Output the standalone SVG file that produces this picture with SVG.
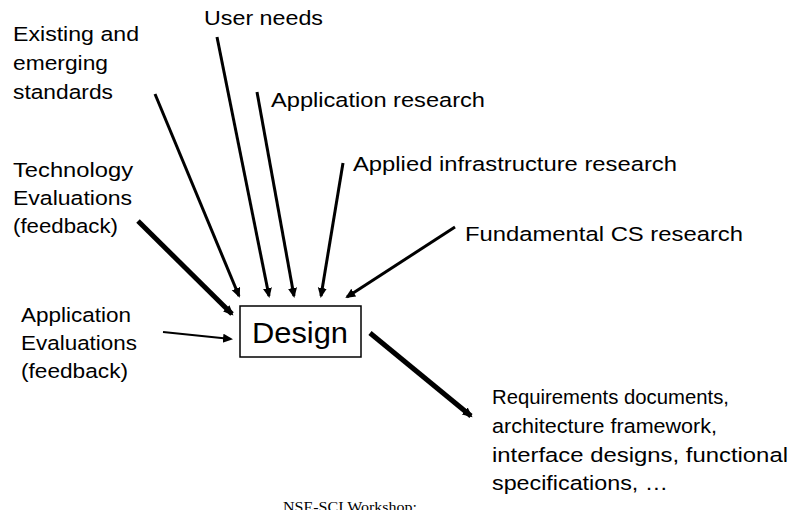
<svg xmlns="http://www.w3.org/2000/svg" width="790" height="510" viewBox="0 0 790 510">
<style>
.lbl{font-family:"Liberation Sans",Arial,sans-serif;font-size:20.5px;fill:#000}
.ttl{font-family:"Liberation Sans",Arial,sans-serif;font-size:29px;fill:#000}
.foot{font-family:"Liberation Serif","Times New Roman",serif;font-size:15.5px;fill:#000}
.arr{fill:none;stroke:#000;stroke-width:3;marker-end:url(#ah)}
.thick{stroke-width:5}
.thin{stroke-width:2}
</style>
<defs>
<marker id="ah" markerUnits="userSpaceOnUse" markerWidth="12" markerHeight="10" refX="8" refY="4.5" orient="auto">
<path d="M0,0 L10,4.5 L0,9 z" fill="#000"/>
</marker>
</defs>
<rect width="790" height="510" fill="#fff"/>
<g id="connectors">
<path class="arr" d="M155,94 L239,296"/>
<path class="arr" d="M217,37 L269,296"/>
<path class="arr" d="M257,92 L294,296"/>
<path class="arr" d="M343,163 L321,296"/>
<path class="arr" d="M455,227 L347,297"/>
<path class="arr thick" d="M138,221 L232,314"/>
<path class="arr thin" d="M163,332 L231,339"/>
<path class="arr thick" d="M370,333 L471,416"/>
</g>
<g id="design">
<rect x="240" y="306" width="121" height="51" fill="#fff" stroke="#000" stroke-width="1.5"/>
<text class="ttl" x="252" y="343" textLength="96" lengthAdjust="spacingAndGlyphs">Design</text>
</g>
<g id="user-needs">
<text class="lbl" x="204" y="25" textLength="119" lengthAdjust="spacingAndGlyphs">User needs</text>
</g>
<g id="standards">
<text class="lbl" x="13" y="41" textLength="126" lengthAdjust="spacingAndGlyphs">Existing and</text>
<text class="lbl" x="13" y="70" textLength="95" lengthAdjust="spacingAndGlyphs">emerging</text>
<text class="lbl" x="13" y="99" textLength="100" lengthAdjust="spacingAndGlyphs">standards</text>
</g>
<g id="app-research">
<text class="lbl" x="271" y="107" textLength="214" lengthAdjust="spacingAndGlyphs">Application research</text>
</g>
<g id="infra-research">
<text class="lbl" x="353" y="171" textLength="324" lengthAdjust="spacingAndGlyphs">Applied infrastructure research</text>
</g>
<g id="cs-research">
<text class="lbl" x="465" y="241" textLength="278" lengthAdjust="spacingAndGlyphs">Fundamental CS research</text>
</g>
<g id="tech-eval">
<text class="lbl" x="13" y="177" textLength="120" lengthAdjust="spacingAndGlyphs">Technology</text>
<text class="lbl" x="13" y="205" textLength="119" lengthAdjust="spacingAndGlyphs">Evaluations</text>
<text class="lbl" x="13" y="233" textLength="105" lengthAdjust="spacingAndGlyphs">(feedback)</text>
</g>
<g id="app-eval">
<text class="lbl" x="21" y="322" textLength="110" lengthAdjust="spacingAndGlyphs">Application</text>
<text class="lbl" x="21" y="350" textLength="116" lengthAdjust="spacingAndGlyphs">Evaluations</text>
<text class="lbl" x="21" y="378" textLength="107" lengthAdjust="spacingAndGlyphs">(feedback)</text>
</g>
<g id="outputs">
<text class="lbl" x="492" y="404" textLength="237" lengthAdjust="spacingAndGlyphs">Requirements documents,</text>
<text class="lbl" x="492" y="433" textLength="225" lengthAdjust="spacingAndGlyphs">architecture framework,</text>
<text class="lbl" x="492" y="462" textLength="296" lengthAdjust="spacingAndGlyphs">interface designs, functional</text>
<text class="lbl" x="492" y="490" textLength="176" lengthAdjust="spacingAndGlyphs">specifications, …</text>
</g>
<g id="footer">
<text class="foot" x="283" y="512" textLength="134" lengthAdjust="spacingAndGlyphs">NSE-SCI Workshop:</text>
</g>
</svg>
